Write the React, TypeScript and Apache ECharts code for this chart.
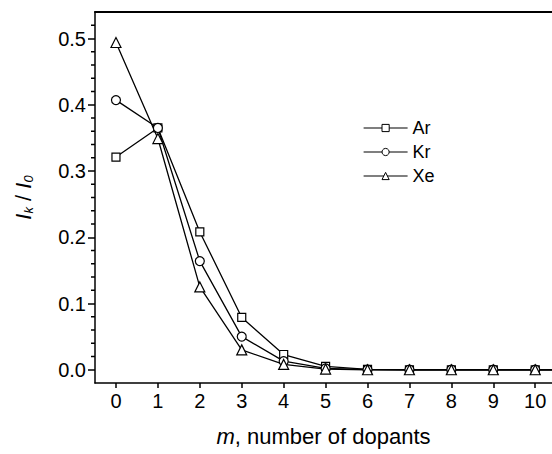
import React, { useEffect, useRef } from "react";
import * as echarts from "echarts";

const mValues = [0, 1, 2, 3, 4, 5, 6, 7, 8, 9, 10, 11];
const arValues = [0.321, 0.365, 0.208, 0.079, 0.023, 0.005, 0.0006, 0, 0, 0, 0, 0];
const krValues = [0.407, 0.365, 0.164, 0.05, 0.013, 0.002, 0.0002, 0, 0, 0, 0, 0];
const xeValues = [0.494, 0.349, 0.125, 0.03, 0.008, 0.001, 0, 0, 0, 0, 0, 0];
const xTicks = [0, 1, 2, 3, 4, 5, 6, 7, 8, 9, 10];
const yTicks = [0, 0.1, 0.2, 0.3, 0.4, 0.5];
const yMinorTicks = [0.02, 0.04, 0.06, 0.08, 0.12, 0.14, 0.16, 0.18, 0.22, 0.24, 0.26, 0.28, 0.32, 0.34, 0.36, 0.38, 0.42, 0.44, 0.46, 0.48, 0.52];

const FONT = "'Liberation Sans', Arial, Helvetica, sans-serif";
const W = 552;
const X_MIN = -0.5;
const X_MAX = 10.4;

export default function App() {
  const ref = useRef<HTMLDivElement>(null);
  useEffect(() => {
    if (!ref.current) return;
    const chart = echarts.init(ref.current, null, { renderer: "svg" });
    const pairs = (vals: number[]) => mValues.map((m, i) => [m, vals[i]]);
    const mk = (name: string, vals: number[], symbol: string, size: number) => ({
      name,
      type: "line",
      data: pairs(vals),
      symbol,
      symbolSize: size,
      showAllSymbol: true,
      clip: true,
      lineStyle: { color: "#000", width: 1.3 },
      itemStyle: { color: "#fff", borderColor: "#000", borderWidth: 1.2 },
      xAxisIndex: 0,
      yAxisIndex: 0,
    });
    chart.setOption({
      animation: false,
      backgroundColor: "#fff",
      textStyle: { fontFamily: FONT, color: "#000" },
      grid: { left: 95, top: 12, right: 0, bottom: 71, containLabel: false },
      legend: {
        orient: "vertical",
        left: 358,
        top: 114,
        itemWidth: 44,
        itemHeight: 9,
        itemGap: 6,
        lineStyle: { width: 1.2, color: "#000" },
        itemStyle: { color: "#fff", borderColor: "#000", borderWidth: 1 },
        textStyle: { fontFamily: FONT, fontSize: 18, color: "#000", padding: [0, 0, 0, 0] },
        data: ["Ar", "Kr", "Xe"],
      },
      xAxis: [
        {
          type: "value",
          min: X_MIN,
          max: X_MAX,
          position: "bottom",
          splitLine: { show: false },
          axisLine: { show: true, onZero: false, lineStyle: { color: "#000", width: 1.5 } },
          axisTick: { show: true, customValues: xTicks, length: 5, lineStyle: { color: "#000", width: 1.5 } },
          axisLabel: { customValues: xTicks, fontSize: 20, color: "#000", fontFamily: FONT, margin: 8 },
          name: "{i|m}, number of dopants",
          nameLocation: "middle",
          nameGap: 42,
          nameTextStyle: {
            fontSize: 22,
            fontFamily: FONT,
            color: "#000",
            rich: { i: { fontStyle: "italic", fontSize: 22, fontFamily: FONT, color: "#000" } },
          },
        },
        {
          type: "value",
          min: X_MIN,
          max: X_MAX,
          position: "top",
          splitLine: { show: false },
          axisLine: { show: true, onZero: false, lineStyle: { color: "#000", width: 2 } },
          axisTick: { show: false },
          axisLabel: { show: false },
        },
      ],
      yAxis: [
        {
          type: "value",
          min: -0.02,
          max: 0.54,
          position: "left",
          splitLine: { show: false },
          axisLine: { show: true, onZero: false, lineStyle: { color: "#000", width: 1.5 } },
          axisTick: { show: true, customValues: yTicks, length: 7, lineStyle: { color: "#000", width: 1.5 } },
          axisLabel: {
            customValues: yTicks,
            fontSize: 20,
            color: "#000",
            fontFamily: FONT,
            margin: 9,
            formatter: (v: number) => v.toFixed(1),
          },
          name: "{i|I}{s|k}{n| / }{i|I}{s|0}",
          nameLocation: "middle",
          nameGap: 60,
          nameRotate: 90,
          nameTextStyle: {
            fontSize: 22,
            fontFamily: FONT,
            color: "#000",
            rich: {
              i: { fontStyle: "italic", fontSize: 22, fontFamily: FONT, color: "#000" },
              s: { fontStyle: "italic", fontSize: 13, fontFamily: FONT, color: "#000", verticalAlign: "bottom", padding: [10, 0, 0, 0] },
              n: { fontSize: 22, fontFamily: FONT, color: "#000" },
            },
          },
        },
      ],
      series: [
        mk("Ar", arValues, "rect", 8),
        mk("Kr", krValues, "circle", 9),
        mk("Xe", xeValues, "triangle", 10),
        {
          name: "minorTicks",
          type: "custom",
          xAxisIndex: 0,
          yAxisIndex: 0,
          silent: true,
          clip: false,
          data: yMinorTicks.map((v) => [X_MIN, v]),
          renderItem: (_params: any, api: any) => {
            const p = api.coord([api.value(0), api.value(1)]);
            return {
              type: "line",
              shape: { x1: p[0] - 4, y1: p[1], x2: p[0], y2: p[1] },
              style: { stroke: "#000", lineWidth: 1.5 },
            };
          },
        },
      ],
    });
    return () => chart.dispose();
  }, []);
  return <div ref={ref} style={{ position: "fixed", left: 0, top: 0, width: W, height: 454 }} />;
}
